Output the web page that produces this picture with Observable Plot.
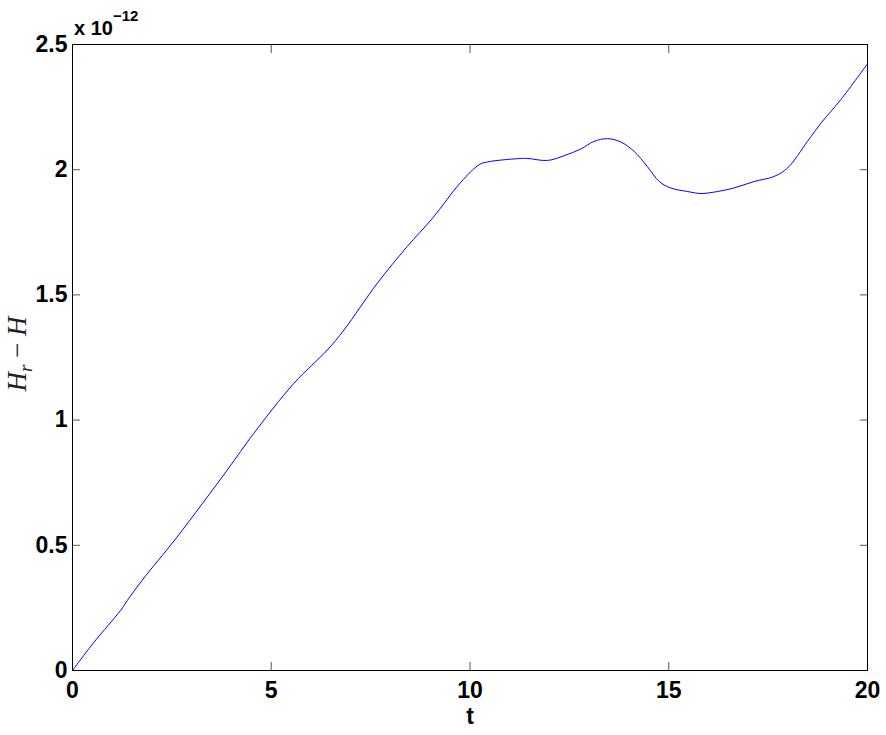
<!DOCTYPE html>
<html>
<head>
<meta charset="utf-8">
<script src="https://cdn.jsdelivr.net/npm/d3@7"></script>
<script src="https://cdn.jsdelivr.net/npm/@observablehq/plot@0.6"></script>
<style>
  html, body { margin: 0; padding: 0; background: white; }
</style>
</head>
<body>
<div id="chart"></div>
<script>
// time values (t)
const tValues = [0, 0.54, 1.21, 1.38, 1.75, 2.63, 3.89, 4.56, 5.57, 6.41, 6.83, 7.67, 8.42, 9.05, 9.77, 10.23, 10.44, 11.19, 11.44, 11.95, 12.37, 12.79, 13.12, 13.46, 13.79, 14.13, 14.46, 14.76, 15.05, 15.47, 15.81, 16.23, 16.64, 17.15, 17.65, 17.99, 18.49, 18.85, 19.33, 20];
// H_r - H, in units of 1e-12
const diffValues = [0, 0.113, 0.24, 0.28, 0.36, 0.533, 0.80, 0.947, 1.147, 1.28, 1.36, 1.547, 1.693, 1.805, 1.95, 2.02, 2.031, 2.044, 2.045, 2.037, 2.056, 2.083, 2.113, 2.124, 2.111, 2.073, 2.013, 1.953, 1.927, 1.913, 1.905, 1.913, 1.927, 1.953, 1.973, 2.007, 2.113, 2.19, 2.28, 2.423];
const xTicks = [0, 5, 10, 15, 20];
const yTicks = [0, 0.5, 1, 1.5, 2, 2.5];
const yTickLabels = ["0", "0.5", "1", "1.5", "2", "2.5"];
const xLabel = ["t"];
const exponentBase = "x 10";
const exponentPower = "\u221212";

const data = tValues.map((t, i) => ({t, v: diffValues[i]}));
const FONT = "'Liberation Sans', Arial, sans-serif";
const FS = 23;

const chart = Plot.plot({
  width: 886,
  height: 735,
  marginLeft: 72,
  marginRight: 19,
  marginTop: 44,
  marginBottom: 65,
  style: {fontFamily: FONT, fontSize: FS + "px", fontWeight: "bold", color: "black", background: "white"},
  x: {domain: [0, 20]},
  y: {domain: [0, 2.5]},
  marks: [
    Plot.line(data, {x: "t", y: "v", stroke: "#0000ff", strokeWidth: 1, curve: "catmull-rom"}),
    Plot.axisX(xTicks, {anchor: "bottom", tickSize: 8, dy: -8, fill: "none", stroke: "#555", label: null}),
    Plot.axisX(xTicks, {anchor: "top", tickSize: 8, dy: 8, fill: "none", stroke: "#555", label: null}),
    Plot.axisY(yTicks, {anchor: "left", tickSize: 8, dx: 8, fill: "none", stroke: "#555", label: null}),
    Plot.axisY(yTicks, {anchor: "right", tickSize: 8, dx: -8, fill: "none", stroke: "#555", label: null}),
    Plot.axisX(xTicks, {anchor: "bottom", tickSize: 0, tickPadding: 11, label: null, fill: "black",
      fontSize: FS, fontWeight: "bold", fontFamily: FONT}),
    Plot.axisY(yTicks, {anchor: "left", tickSize: 0, tickPadding: 5, label: null, fill: "black",
      fontSize: FS, fontWeight: "bold", fontFamily: FONT,
      tickFormat: d => yTickLabels[yTicks.indexOf(d)]}),
    Plot.frame({stroke: "black", strokeWidth: 1}),
    Plot.text(xLabel, {frameAnchor: "bottom", text: d => d, dy: 53, fontSize: FS, fontWeight: "bold", fontFamily: FONT, fill: "black"})
  ]
});

const svg = d3.select(chart);
// exponent label
const ex = svg.append("text")
  .attr("x", 74).attr("y", 35)
  .attr("text-anchor", "start")
  .attr("font-family", FONT)
  .attr("font-weight", "bold")
  .attr("font-size", 20)
  .attr("fill", "black");
ex.append("tspan").text(exponentBase);
ex.append("tspan").attr("dy", -14).attr("font-size", 15).text(exponentPower);

// y axis label: H_r − H
const yl = svg.append("text")
  .attr("transform", "translate(26,354) rotate(-90)")
  .attr("text-anchor", "middle")
  .attr("font-family", "'Liberation Serif', 'DejaVu Serif', serif")
  .attr("font-weight", "normal")
  .attr("font-size", 27)
  .attr("fill", "#222");
yl.append("tspan").attr("font-style", "italic").text("H");
yl.append("tspan").attr("font-style", "italic").attr("font-size", 19).attr("dy", 6).text("r");
yl.append("tspan").attr("dy", -6).text(" \u2212 ");
yl.append("tspan").attr("font-style", "italic").text("H");

document.getElementById("chart").appendChild(chart);
</script>
</body>
</html>
